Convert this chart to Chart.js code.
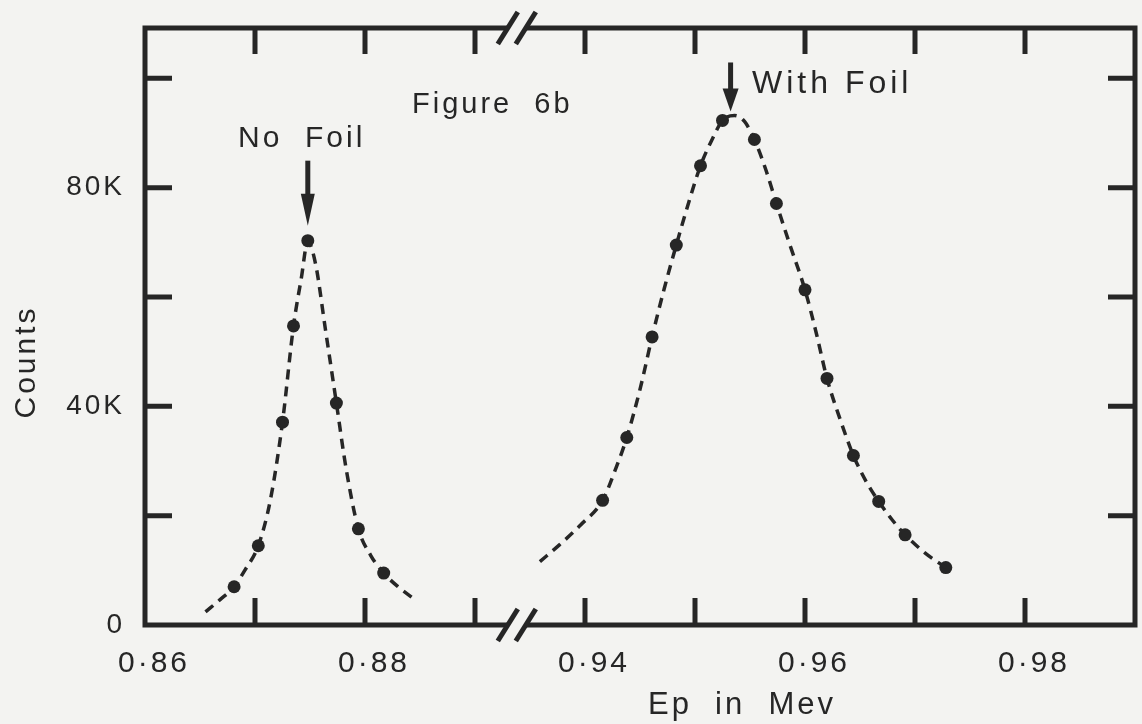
<!DOCTYPE html>
<html>
<head>
<meta charset="utf-8">
<script src="https://cdn.jsdelivr.net/npm/chart.js@4.4.1/dist/chart.umd.min.js"></script>
<style>
  html, body { margin: 0; padding: 0; background: #f3f3f1; }
  canvas { display: block; }
</style>
</head>
<body>
<canvas id="chartFoil" width="1142" height="724"></canvas>
<script>
// energy (Mev) and counts (K)
var noFoilX = [0.8681, 0.8703, 0.8725, 0.8735, 0.8748, 0.8774, 0.8794, 0.8817];
var noFoilY = [7.0, 14.5, 37.1, 54.7, 70.3, 40.6, 17.6, 9.5];

var withFoilX = [0.9416, 0.9438, 0.9461, 0.9483, 0.9505, 0.9525, 0.9554, 0.9574, 0.9600, 0.9620, 0.9644, 0.9667, 0.9691, 0.9728];
var withFoilY = [22.8, 34.3, 52.7, 69.5, 84.0, 92.3, 88.8, 77.1, 61.3, 45.1, 31.0, 22.6, 16.5, 10.5];

// dashed fitted curves
var noFoilFitX = [0.8655, 0.8668, 0.8681, 0.8691, 0.8703, 0.8714, 0.8725, 0.8735, 0.8742, 0.8748, 0.8755, 0.8764, 0.8774, 0.8783, 0.8794, 0.8805, 0.8817, 0.8830, 0.8843];
var noFoilFitY = [2.4, 4.6, 7.0, 10.1, 14.5, 22.9, 37.1, 54.7, 63.3, 70.1, 66.1, 54.1, 40.6, 28.4, 17.6, 12.8, 9.5, 7.0, 5.0];

var withFoilFitX = [0.9359, 0.9377, 0.9396, 0.9416, 0.9427, 0.9438, 0.9450, 0.9461, 0.9472, 0.9483, 0.9494, 0.9505, 0.9516, 0.9525, 0.9536, 0.9545, 0.9554, 0.9564, 0.9574, 0.9586, 0.9600, 0.9610, 0.9620, 0.9632, 0.9644, 0.9656, 0.9667, 0.9679, 0.9691, 0.9709, 0.9728];
var withFoilFitY = [11.6, 14.7, 18.3, 22.8, 28.1, 34.3, 43.1, 52.7, 61.5, 69.5, 77.1, 84.0, 89.0, 92.3, 93.2, 92.1, 88.8, 83.5, 77.1, 69.7, 61.3, 53.6, 45.1, 37.6, 31.0, 26.1, 22.6, 19.3, 16.5, 13.2, 10.5];

// axis ticks
var xTickLabels = [0.86, 0.88, 0.94, 0.96, 0.98];
var xTickMarks = [0.87, 0.88, 0.89, 0.94, 0.95, 0.96, 0.97, 0.98];
var yTickLabels = [0, 40, 80];
var yTickMarks = [20, 40, 60, 80, 100];

// broken axis: 0.89..0.93 is cut out
var gapWidth = 0.04;
var breakAt = 0.8938;
function toAxis(v) { return v > 0.9 ? v - gapWidth : v; }
function fromAxis(v) { return v > breakAt ? v + gapWidth : v; }
function pts(xs, ys) {
    var out = [];
    for (var i = 0; i < xs.length; i++) out.push({x: toAxis(xs[i]), y: ys[i]});
    return out;
}

var ink = '#262626';
var fontFamily = "'Liberation Sans', Arial, sans-serif";

function arrow(ctx, x, yTop, yTip, headLen, headW) {
    ctx.beginPath();
    ctx.lineWidth = 5;
    ctx.moveTo(x, yTop);
    ctx.lineTo(x, yTip - headLen + 2);
    ctx.stroke();
    ctx.beginPath();
    ctx.moveTo(x - headW, yTip - headLen);
    ctx.lineTo(x + headW, yTip - headLen);
    ctx.lineTo(x, yTip);
    ctx.closePath();
    ctx.fill();
}

var framePlugin = {
    id: 'frame',
    beforeLayout: function(chart) {
        chart.ctx.letterSpacing = '3px';
    },
    beforeDraw: function(chart) {
        var ctx = chart.ctx;
        ctx.save();
        ctx.fillStyle = '#f3f3f1';
        ctx.fillRect(0, 0, chart.width, chart.height);
        ctx.restore();
        ctx.letterSpacing = '3px';
    },
    afterDraw: function(chart) {
        var ctx = chart.ctx;
        var a = chart.chartArea;
        var xs = chart.scales.x, ys = chart.scales.y;
        var bx = xs.getPixelForValue(breakAt);
        ctx.save();
        ctx.strokeStyle = ink;
        ctx.fillStyle = ink;
        ctx.lineCap = 'butt';

        // frame with gaps for the axis break
        ctx.lineWidth = 5;
        ctx.beginPath();
        ctx.moveTo(bx - 9, a.top);
        ctx.lineTo(a.left, a.top);
        ctx.lineTo(a.left, a.bottom);
        ctx.lineTo(bx - 9, a.bottom);
        ctx.moveTo(bx + 9, a.bottom);
        ctx.lineTo(a.right, a.bottom);
        ctx.lineTo(a.right, a.top);
        ctx.lineTo(bx + 9, a.top);
        ctx.stroke();

        // break marks //
        ctx.lineWidth = 5;
        [a.top, a.bottom].forEach(function(y) {
            [-9, 9].forEach(function(dx) {
                ctx.beginPath();
                ctx.moveTo(bx + dx - 10, y + 16);
                ctx.lineTo(bx + dx + 10, y - 16);
                ctx.stroke();
            });
        });

        // inward tick marks
        ctx.lineWidth = 5;
        xTickMarks.forEach(function(v) {
            var px = xs.getPixelForValue(toAxis(v));
            ctx.beginPath();
            ctx.moveTo(px, a.bottom);
            ctx.lineTo(px, a.bottom - 27);
            ctx.moveTo(px, a.top);
            ctx.lineTo(px, a.top + 26);
            ctx.stroke();
        });
        yTickMarks.forEach(function(v) {
            var py = ys.getPixelForValue(v);
            ctx.beginPath();
            ctx.moveTo(a.left, py);
            ctx.lineTo(a.left + 27, py);
            ctx.moveTo(a.right, py);
            ctx.lineTo(a.right - 27, py);
            ctx.stroke();
        });

        // arrows at the peaks
        var nfPeak = noFoilY.indexOf(Math.max.apply(null, noFoilY));
        var nx = xs.getPixelForValue(toAxis(noFoilX[nfPeak]));
        var ny = ys.getPixelForValue(noFoilY[nfPeak]);
        arrow(ctx, nx, ny - 80, ny - 15, 32, 7);
        var wfPeak = withFoilFitY.indexOf(Math.max.apply(null, withFoilFitY));
        var wx = xs.getPixelForValue(toAxis(withFoilFitX[wfPeak])) - 4;
        var wy = ys.getPixelForValue(withFoilFitY[wfPeak]);
        arrow(ctx, wx, wy - 53, wy - 4, 23, 8);

        // texts
        ctx.textBaseline = 'alphabetic';
        ctx.textAlign = 'left';
        ctx.letterSpacing = '3px';
        ctx.font = '29px ' + fontFamily;
        ctx.fillText('Figure  6b', 412, 113);
        ctx.font = '30px ' + fontFamily;
        ctx.fillText('No  Foil', 238, 147);
        ctx.letterSpacing = '4px';
        ctx.font = '32px ' + fontFamily;
        ctx.fillText('With Foil', 752, 93);
        ctx.textAlign = 'center';
        ctx.letterSpacing = '3px';
        ctx.font = '31px ' + fontFamily;
        ctx.fillText('Ep  in  Mev', 742, 714);
        ctx.font = '30px ' + fontFamily;
        ctx.translate(35, 362);
        ctx.rotate(-Math.PI / 2);
        ctx.fillText('Counts', 0, 0);
        ctx.restore();
    }
};

var chartFoil = new Chart(document.getElementById('chartFoil'), {
    type: 'scatter',
    data: {
        datasets: [{
            label: 'No Foil fit',
            data: pts(noFoilFitX, noFoilFitY),
            showLine: true,
            borderColor: ink,
            borderWidth: 3.5,
            borderDash: [10, 7],
            pointRadius: 0,
            cubicInterpolationMode: 'monotone',
        }, {
            label: 'No Foil',
            data: pts(noFoilX, noFoilY),
            showLine: false,
            pointRadius: 6.5,
            pointBackgroundColor: ink,
            pointBorderWidth: 0,
        }, {
            label: 'With Foil fit',
            data: pts(withFoilFitX, withFoilFitY),
            showLine: true,
            borderColor: ink,
            borderWidth: 3.5,
            borderDash: [10, 7],
            pointRadius: 0,
            cubicInterpolationMode: 'monotone',
        }, {
            label: 'With Foil',
            data: pts(withFoilX, withFoilY),
            showLine: false,
            pointRadius: 6.5,
            pointBackgroundColor: ink,
            pointBorderWidth: 0,
        }]
    },
    options: {
        responsive: false,
        animation: false,
        layout: { padding: { top: 28, right: 7, left: 0, bottom: 0 } },
        plugins: {
            legend: { display: false },
            tooltip: { enabled: false },
            title: { display: false }
        },
        scales: {
            x: {
                type: 'linear',
                min: 0.86,
                max: 0.95,
                grid: { display: false },
                border: { display: false },
                afterBuildTicks: function(scale) {
                    scale.ticks = xTickLabels.map(function(v) { return {value: toAxis(v)}; });
                },
                afterFit: function(scale) {
                    scale.height = 99;
                    scale.paddingLeft = 0;
                    scale.paddingRight = 0;
                },
                ticks: {
                    color: ink,
                    padding: 13,
                    maxRotation: 0,
                    autoSkip: false,
                    font: { family: fontFamily, size: 30 },
                    callback: function(v) {
                        return '\u2002' + fromAxis(v).toFixed(2).replace('.', '\u00b7');
                    }
                }
            },
            y: {
                type: 'linear',
                min: 0,
                max: 109.2,
                grid: { display: false },
                border: { display: false },
                afterBuildTicks: function(scale) {
                    scale.ticks = yTickLabels.map(function(v) { return {value: v}; });
                },
                afterFit: function(scale) {
                    scale.width = 145;
                    scale.paddingTop = 0;
                    scale.paddingBottom = 0;
                },
                ticks: {
                    color: ink,
                    padding: 12,
                    autoSkip: false,
                    font: { family: fontFamily, size: 28 },
                    callback: function(v) { return v === 0 ? '0' : v + 'K'; }
                }
            }
        }
    },
    plugins: [framePlugin]
});
</script>
</body>
</html>
